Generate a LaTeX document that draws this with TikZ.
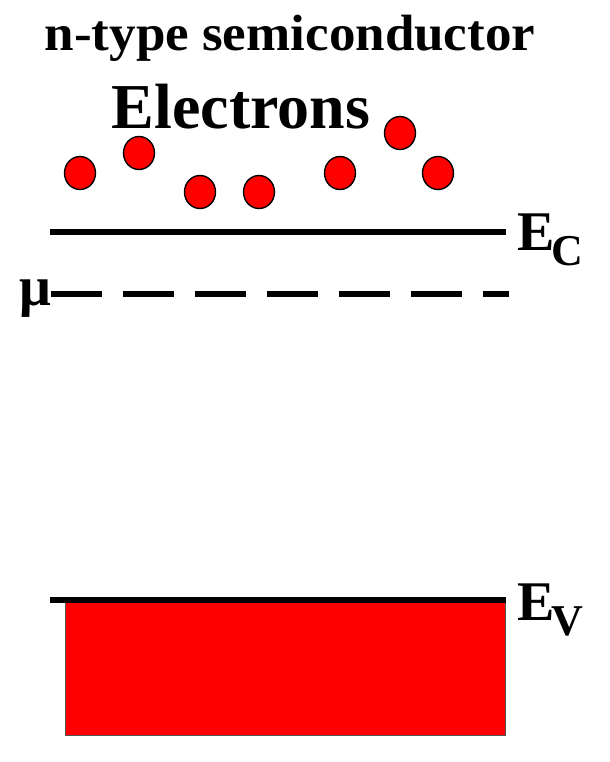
\documentclass[tikz,border=0pt]{standalone}
\usepackage{fontspec}
\setmainfont{Liberation Serif}
\usetikzlibrary{positioning,shapes.geometric}
\definecolor{el}{HTML}{FF0000}
\definecolor{bd}{HTML}{555555}
\begin{document}
\begin{tikzpicture}[x=0.5pt,y=-0.5pt,
  lv/.style={line width=3.2pt,draw=black},
  mu/.style={line width=3.4pt,draw=black,dash pattern=on 25.5pt off 10.5pt},
  ch/.style={ellipse,draw=black,fill=el,line width=0.7pt,minimum width=15.5pt,minimum height=16.5pt,inner sep=0pt},
  lb/.style={font=\bfseries\fontsize{28}{30}\selectfont,inner sep=0pt}]
\useasboundingbox (0,0) rectangle (610,762);
\node[font=\bfseries\fontsize{25.5}{27}\selectfont,xscale=1.04,inner sep=0pt,anchor=base](title) at (290,50){n-type semiconductor};
\node[font=\bfseries\fontsize{32}{34}\selectfont,inner sep=0pt,anchor=base](elec) at (241,128){Electrons};
\foreach \n/\x/\y in {e1/80/173,e2/139/153,e3/200/192,e4/259/192,e5/340/173,e6/400/133,e7/438/173}
  \node[ch](\n) at (\x,\y){};
\coordinate (ecl) at (50,232);
\coordinate (ecr) at (506,232);
\coordinate (mul) at (51,294);
\coordinate (mur) at (509,294);
\coordinate (evl) at (50,600);
\coordinate (evr) at (506,600);
\node[lb,anchor=base west](ec) at (517,250){E\kern-0.05em\raisebox{-0.28em}{\fontsize{22}{24}\selectfont C}};
\node[lb,anchor=base east](mul-lb) at (52,305){μ};
\node[lb,anchor=base west](ev) at (517,620){E\kern-0.05em\raisebox{-0.28em}{\fontsize{22}{24}\selectfont V}};
\draw[lv](ecl)--(ecr);
\draw[mu](mul)--(mur);
\filldraw[fill=el,draw=bd,line width=0.5pt](65,600) rectangle (505,735);
\draw[lv](evl)--(evr);
\end{tikzpicture}
\end{document}
